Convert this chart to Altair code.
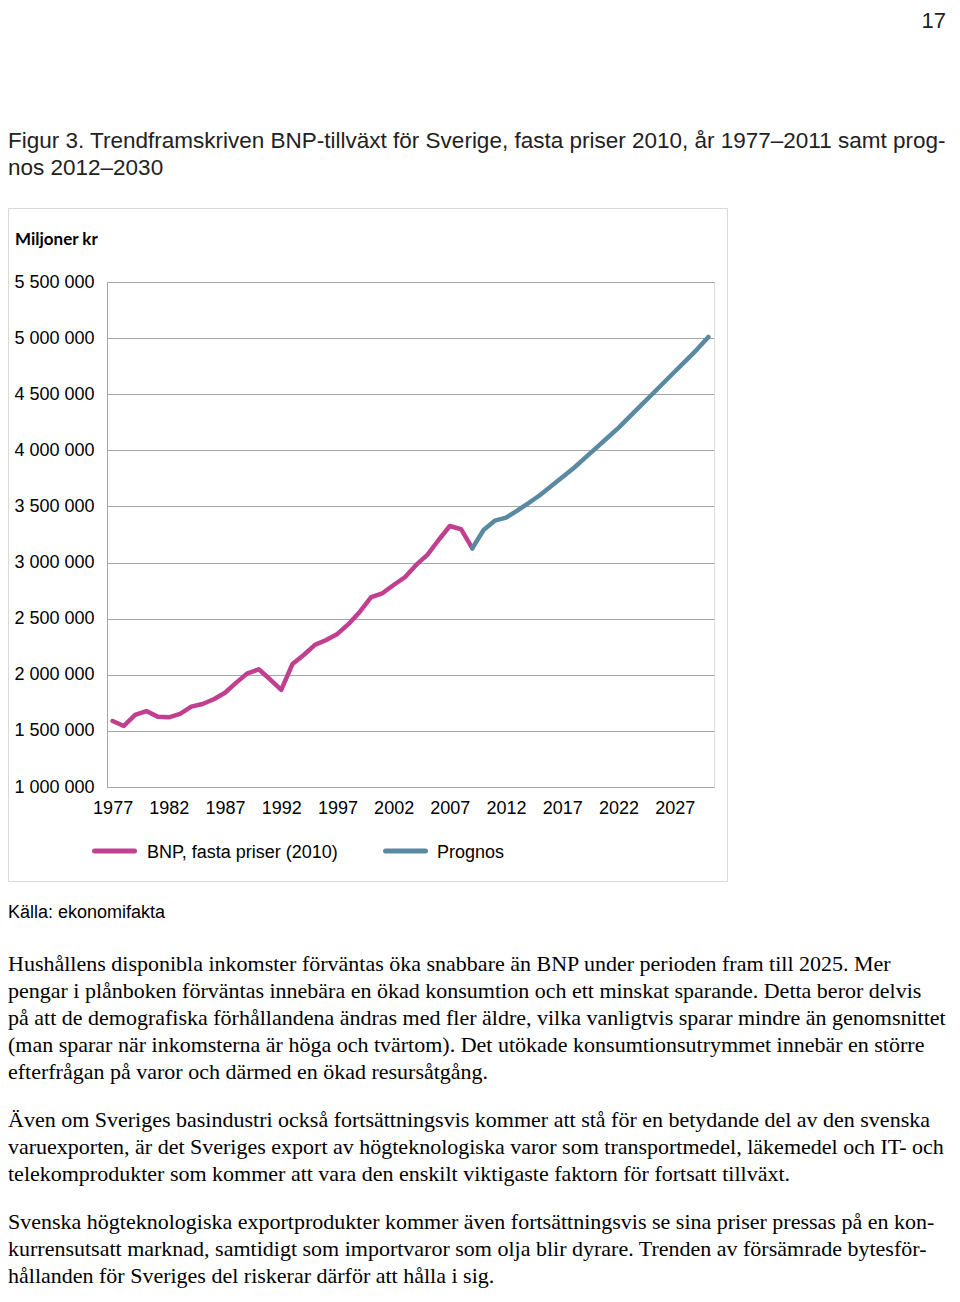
import altair as alt
import pandas as pd

# ---------------- data ----------------
hist_years = list(range(1977, 2010))
hist_values = [1588000, 1544000, 1642000, 1677000, 1627000, 1621000, 1651000, 1716000,
               1740000, 1782000, 1840000, 1930000, 2013000, 2049000, 1960000, 1865000,
               2096000, 2176000, 2266000, 2310000, 2364000, 2453000, 2562000, 2691000,
               2726000, 2800000, 2869000, 2979000, 3068000, 3201000, 3326000, 3297000,
               3127000]
prog_years = list(range(2009, 2031))
prog_values = [3127000, 3290000, 3373000, 3400000, 3463000, 3530000, 3600000, 3680000,
               3760000, 3840000, 3930000, 4020000, 4110000, 4200000, 4300000, 4400000,
               4500000, 4600000, 4700000, 4800000, 4900000, 5010000]
series_names = ["BNP, fasta priser (2010)", "Prognos"]
series_colors = ["#C0408F", "#5A8AA2"]
y_ticks = [1000000, 1500000, 2000000, 2500000, 3000000, 3500000, 4000000, 4500000, 5000000, 5500000]
x_ticks = [1977, 1982, 1987, 1992, 1997, 2002, 2007, 2012, 2017, 2022, 2027]

page_number = "17"
title_lines = [
    "Figur 3. Trendframskriven BNP-tillväxt för Sverige, fasta priser 2010, år 1977–2011 samt prog-",
    "nos 2012–2030",
]
unit_label = "Miljoner kr"
source_text = "Källa: ekonomifakta"
para1 = [
    "Hushållens disponibla inkomster förväntas öka snabbare än BNP under perioden fram till 2025. Mer",
    "pengar i plånboken förväntas innebära en ökad konsumtion och ett minskat sparande. Detta beror delvis",
    "på att de demografiska förhållandena ändras med fler äldre, vilka vanligtvis sparar mindre än genomsnittet",
    "(man sparar när inkomsterna är höga och tvärtom). Det utökade konsumtionsutrymmet innebär en större",
    "efterfrågan på varor och därmed en ökad resursåtgång.",
]
para2 = [
    "Även om Sveriges basindustri också fortsättningsvis kommer att stå för en betydande del av den svenska",
    "varuexporten, är det Sveriges export av högteknologiska varor som transportmedel, läkemedel och IT- och",
    "telekomprodukter som kommer att vara den enskilt viktigaste faktorn för fortsatt tillväxt.",
]
para3 = [
    "Svenska högteknologiska exportprodukter kommer även fortsättningsvis se sina priser pressas på en kon-",
    "kurrensutsatt marknad, samtidigt som importvaror som olja blir dyrare. Trenden av försämrade bytesför-",
    "hållanden för Sveriges del riskerar därför att hålla i sig.",
]

df = pd.concat([
    pd.DataFrame({"year": hist_years, "value": hist_values, "serie": series_names[0]}),
    pd.DataFrame({"year": prog_years, "value": prog_values, "serie": series_names[1]}),
])
one = pd.DataFrame({"k": [0]})

SANS = "Liberation Sans"
SERIF = "Liberation Serif"

# plot origin on page: (107, 282); svg origin on page: (8, 8)
def px(X):
    return X - 107

def py(Y):
    return Y - 282

box = alt.Chart(one).mark_rect(fillOpacity=0, stroke="#D9D9D9", strokeWidth=1).encode(
    x=alt.value(px(8.5)), x2=alt.value(px(727.5)),
    y=alt.value(py(208.5)), y2=alt.value(py(881.5)),
)

lines = alt.Chart(df).mark_line(strokeWidth=4.5, strokeJoin="round", strokeCap="round").encode(
    x=alt.X("year:Q",
            scale=alt.Scale(domain=[1976.5, 2030.5], nice=False, zero=False),
            axis=alt.Axis(values=x_ticks, format="d", title=None, grid=False, ticks=False,
                          tickSize=0, labelPadding=12, labelFont=SANS, labelFontSize=18,
                          labelColor="#000000", domainColor="#A6A6A6", labelFlush=False,
                          labelOverlap=False)),
    y=alt.Y("value:Q",
            scale=alt.Scale(domain=[1000000, 5500000], nice=False, zero=False),
            axis=alt.Axis(values=y_ticks, title=None, grid=True, gridColor="#A6A6A6",
                          gridWidth=1, ticks=False, tickSize=0, labelPadding=13,
                          labelFont=SANS, labelFontSize=18, labelColor="#000000",
                          domainColor="#A6A6A6", labelAlign="right", labelBaseline="middle",
                          labelFlush=False, labelOverlap=False,
                          labelExpr="replace(format(datum.value, ','), regexp(',', 'g'), ' ')")),
    color=alt.Color("serie:N", scale=alt.Scale(domain=series_names, range=series_colors), legend=None),
    detail="serie:N",
)

def text_layer(txt, X, Ytop, size, font=SANS, color="#000000", weight="normal", align="left", lh=27):
    return alt.Chart(one).mark_text(
        text=txt, align=align, baseline="top", font=font, fontSize=size,
        color=color, fontWeight=weight, lineHeight=lh,
    ).encode(x=alt.value(px(X)), y=alt.value(py(Ytop)))

page_num = text_layer(page_number, 946, 11, 22, color="#222222", align="right")
title = text_layer(title_lines, 8, 130, 22.5, color="#222222")
unit = text_layer(unit_label, 15, 232, 17, font="Lato", weight="bold")
source = text_layer(source_text, 8, 904, 18)
p1 = text_layer(para1, 8, 954, 22, font=SERIF)
p2 = text_layer(para2, 8, 1110, 22, font=SERIF)
p3 = text_layer(para3, 8, 1212, 22, font=SERIF)

leg_line1 = alt.Chart(one).mark_rule(strokeWidth=5, strokeCap="round", color=series_colors[0]).encode(
    x=alt.value(px(94.5)), x2=alt.value(px(134.5)), y=alt.value(py(851)))
leg_line2 = alt.Chart(one).mark_rule(strokeWidth=5, strokeCap="round", color=series_colors[1]).encode(
    x=alt.value(px(385.5)), x2=alt.value(px(425.5)), y=alt.value(py(851)))
leg_text1 = text_layer(series_names[0], 147, 844, 18)
leg_text2 = text_layer(series_names[1], 437, 844, 18)

chart = alt.layer(
    box, lines, leg_line1, leg_line2, leg_text1, leg_text2,
    page_num, title, unit, source, p1, p2, p3,
).properties(
    width=607, height=505,
    padding={"left": 99, "top": 274, "right": 238, "bottom": 502},
    autosize=alt.AutoSizeParams(type="none"),
).configure_view(stroke=None).configure(background="#FFFFFF")

chart.save("out.html", embed_options={"renderer": "svg", "actions": False})
